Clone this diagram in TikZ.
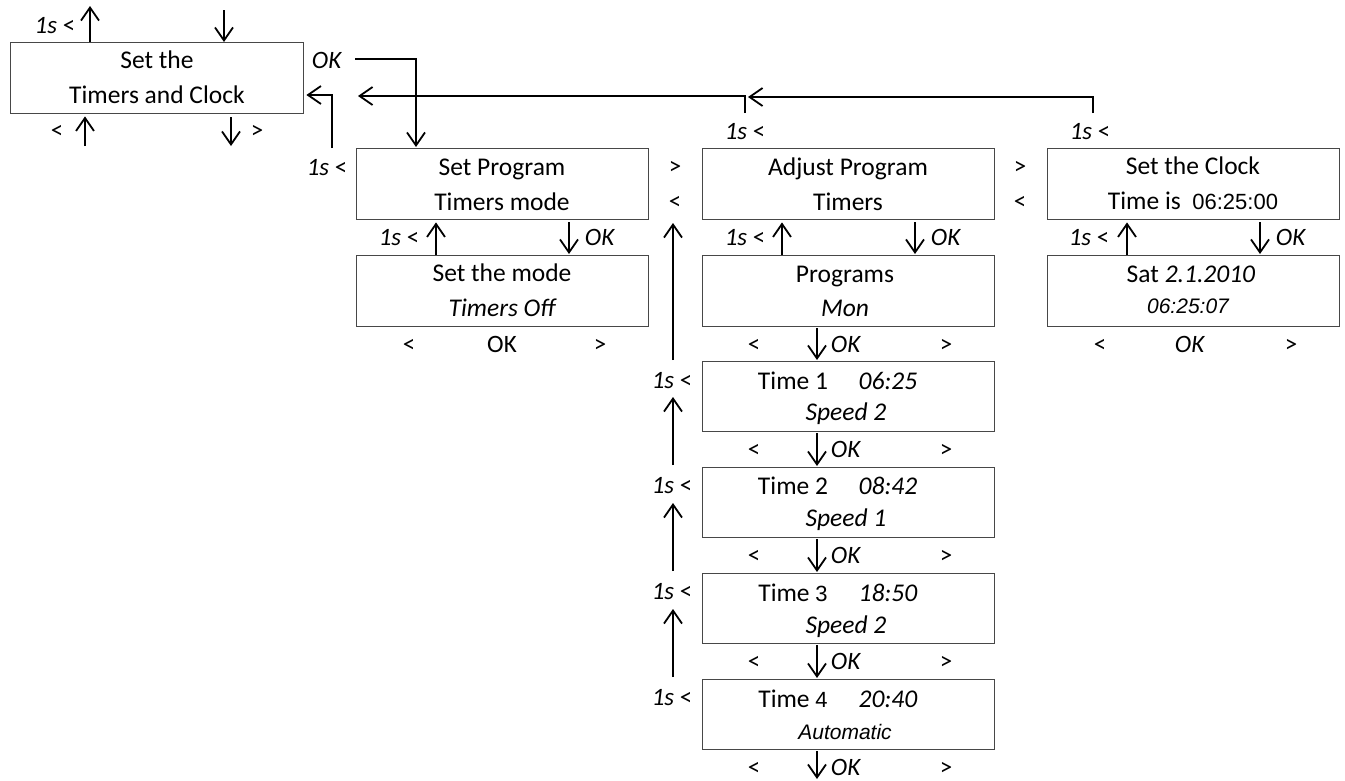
\documentclass[tikz,border=0pt]{standalone}
\usepackage{fontspec}
\setmainfont{Carlito}
\newfontfamily\arialf{Liberation Sans}
\usetikzlibrary{arrows.meta}
\begin{document}
\begin{tikzpicture}[x=1pt,y=-1pt,
  box/.style={draw=black!72,line width=1.4pt,inner sep=0pt,anchor=north west,minimum width=292pt,minimum height=71pt},
  tx/.style={inner sep=0pt,anchor=base,font=\fontsize{25.5}{30}\selectfont},
  lb/.style={inner sep=0pt,anchor=base,font=\fontsize{25}{28}\selectfont},
  ar/.style={inner sep=0pt,anchor=base,font=\arialf\fontsize{21}{26}\selectfont},
  arr/.style={line width=1.8pt,-{Straight Barb[length=13pt,width=18pt,line width=1.8pt]}}]
\useasboundingbox (0,0) rectangle (1345,780);
% boxes
\node[box,minimum width=293pt] (tc) at (10,42) {};
\node[box] (sp) at (356,148) {};
\node[box] (sm) at (356,255) {};
\node[box] (ap) at (702,148) {};
\node[box] (pr) at (702,255) {};
\node[box] (cl) at (1047,148) {};
\node[box] (sa) at (1047,255) {};
\node[box,minimum height=70pt] (t1) at (702,361) {};
\node[box,minimum height=70pt] (t2) at (702,467) {};
\node[box,minimum height=70pt] (t3) at (702,573) {};
\node[box,minimum height=70pt] (t4) at (702,679) {};
% box texts
\node[tx] (tcA) at (157,68) {Set the};
\node[tx] (tcB) at (157,103) {Timers and Clock};
\node[tx] (spA) at (502,175) {Set Program};
\node[tx] (spB) at (502,210) {Timers mode};
\node[tx] (smA) at (502,281) {Set the mode};
\node[tx] (smB) at (502,316) {\itshape Timers Off};
\node[tx] (apA) at (848,175) {Adjust Program};
\node[tx] (apB) at (848,210) {Timers};
\node[tx] (prA) at (845,282) {Programs};
\node[tx] (prB) at (845,316) {\itshape Mon};
\node[tx] (clA) at (1193,174) {Set the Clock};
\node[tx] (clB) at (1193,209) {Time is\ \ {\arialf\fontsize{22}{26}\selectfont 06:25:00}};
\node[tx] (saA) at (1191,282) {Sat \textit{2.1.2010}};
\node[ar] (saB) at (1188,313) {\itshape 06:25:07};
\node[tx] (t1A) at (793,389) {Time 1};
\node[tx] (t1B) at (888,389) {\itshape 06:25};
\node[tx] (t1C) at (846,420) {\itshape Speed 2};
\node[tx] (t2A) at (793,494) {Time 2};
\node[tx] (t2B) at (888,494) {\itshape 08:42};
\node[tx] (t2C) at (846,526) {\itshape Speed 1};
\node[tx] (t3A) at (793,601) {Time {\arialf\fontsize{22}{26}\selectfont 3}};
\node[tx] (t3B) at (888,601) {\itshape 18:50};
\node[tx] (t3C) at (846,633) {\itshape Speed 2};
\node[tx] (t4A) at (793,707) {Time {\arialf\fontsize{22}{26}\selectfont 4}};
\node[tx] (t4B) at (888,707) {\itshape 20:40};
\node[ar] (t4C) at (845,739) {\itshape Automatic};
% labels
\node[lb] (tcS) at (55,33) {\textit{1s} <};
\node[lb] (tcL) at (57,138) {<};
\node[lb] (tcR) at (257,138) {>};
\node[lb] (okA) at (327,68) {\textit{OK}};
\node[lb] (spS0) at (327,175) {\textit{1s} <};
\node[lb] (apS0) at (745,139) {\textit{1s} <};
\node[lb] (clS0) at (1090,139) {\textit{1s} <};
\node[lb] (gt1) at (675,174) {>};
\node[lb] (lt1) at (675,209) {<};
\node[lb] (gt2) at (1020,174) {>};
\node[lb] (lt2) at (1020,209) {<};
\node[lb] (spS) at (399,245) {\textit{1s} <};
\node[lb] (spO) at (600,245) {\textit{OK}};
\node[lb] (apS) at (745,245) {\textit{1s} <};
\node[lb] (apO) at (946,245) {\textit{OK}};
\node[lb] (clS) at (1089,245) {\textit{1s} <};
\node[lb] (clO) at (1291,245) {\textit{OK}};
\node[lb] (smL) at (409,352) {<};
\node[lb] (smO) at (502,352) {OK};
\node[lb] (smR) at (600,352) {>};
\node[lb] (saL) at (1100,352) {<};
\node[lb] (saO) at (1190,352) {\textit{OK}};
\node[lb] (saR) at (1291,352) {>};
\foreach \n/\b in {pr/352,t1/457,t2/563,t3/669,t4/775}{
  \node[lb] (\n L) at (754,\b) {<};
  \node[lb] (\n O) at (846,\b) {\textit{OK}};
  \node[lb] (\n R) at (946,\b) {>};
}
\node[lb] (t1S) at (672,388) {\textit{1s} <};
\node[lb] (t2S) at (672,493) {\textit{1s} <};
\node[lb] (t3S) at (672,599) {\textit{1s} <};
\node[lb] (t4S) at (672,705) {\textit{1s} <};
% free ends
\coordinate (tcU) at (90,6);
\coordinate (tcD) at (224,10);
\coordinate (tcU2) at (85,146);
\coordinate (tcD2) at (231,146);
\coordinate (okS) at (355,59);
\coordinate (apT) at (745,113);
\coordinate (clT) at (1093,113);
\coordinate (back) at (358,96);
\coordinate (c1) at (673,360);
\coordinate (c1e) at (673,223);
\coordinate (c2) at (673,465);
\coordinate (c2e) at (673,397);
\coordinate (c3) at (673,571);
\coordinate (c3e) at (673,503);
\coordinate (c4) at (673,677);
\coordinate (c4e) at (673,609);
\coordinate (endD) at (817,779);
% connectors
\draw[arr] (tc.north -| 90,0) -- (tcU);
\draw[arr] (tcD) -- (tc.north -| 224,0);
\draw[arr,shorten >=2pt] (tcU2) -- (tc.south -| 85,0);
\draw[arr,shorten <=3pt] (tc.south -| 231,0) -- (tcD2);
\draw[arr,shorten >=1pt] (okS) -| (sp.north -| 416,0);
\draw[arr,shorten >=2pt] (sp.north -| 332,0) |- (tc.east |- 0,95);
\draw[arr] (clT) |- ([xshift=3pt]apT |- 0,97);
\draw[arr] (apT) |- (back);
\draw[arr,shorten >=2pt] (sm.north -| 436,0) -- (sp.south -| 436,0);
\draw[arr,shorten <=2pt,shorten >=1pt] (sp.south -| 569,0) -- (sm.north -| 569,0);
\draw[arr,shorten >=2pt] (pr.north -| 782,0) -- (ap.south -| 782,0);
\draw[arr,shorten <=2pt,shorten >=1pt] (ap.south -| 915,0) -- (pr.north -| 915,0);
\draw[arr,shorten >=2pt] (sa.north -| 1127,0) -- (cl.south -| 1127,0);
\draw[arr,shorten <=2pt,shorten >=1pt] (cl.south -| 1260,0) -- (sa.north -| 1260,0);
\draw[arr,shorten <=1pt,shorten >=1pt] (pr.south -| 817,0) -- (t1.north -| 817,0);
\draw[arr,shorten <=1pt,shorten >=1pt] (t1.south -| 817,0) -- (t2.north -| 817,0);
\draw[arr,shorten <=1pt,shorten >=1pt] (t2.south -| 817,0) -- (t3.north -| 817,0);
\draw[arr,shorten <=1pt,shorten >=1pt] (t3.south -| 817,0) -- (t4.north -| 817,0);
\draw[arr,shorten <=1pt] (t4.south -| 817,0) -- (endD);
\draw[arr] (c1) -- (c1e);
\draw[arr] (c2) -- (c2e);
\draw[arr] (c3) -- (c3e);
\draw[arr] (c4) -- (c4e);
\end{tikzpicture}
\end{document}
